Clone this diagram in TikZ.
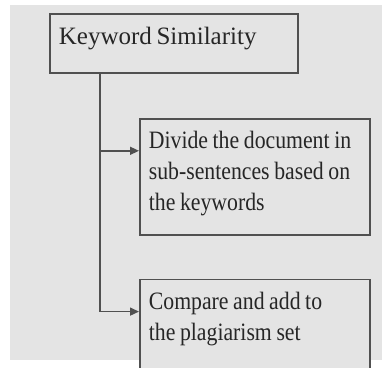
\documentclass[tikz,border=0pt]{standalone}
\usepackage{fontspec}
\setmainfont{Liberation Serif}
\newfontfamily\narrowserif{Liberation Serif}[FakeStretch=0.87]
\usetikzlibrary{arrows.meta, positioning}

\definecolor{panelgray}{HTML}{E4E4E4}
\definecolor{linegray}{HTML}{505050}
\definecolor{inkgray}{HTML}{262626}

\begin{document}
\begin{tikzpicture}[
    x=1pt, y=1pt,
    box/.style={
        rectangle,
        draw=linegray,
        fill=panelgray,
        line width=1.8pt,
        text width=212pt,
        text height=17pt,
        inner xsep=9pt,
        inner ysep=13pt,
        text=inkgray,
        execute at begin node={\parindent=0pt\spaceskip=4.6pt\relax},
        font=\narrowserif\fontsize{25}{31}\selectfont
    },
    arrow/.style={-{Triangle[length=9pt, width=8pt]}, draw=linegray, line width=1.5pt}
]

\useasboundingbox (0,0) rectangle (382,-367);
\fill[panelgray] (10,-5) rectangle (382,-360);

\node[box, anchor=north west, text width=230pt, inner xsep=9pt, inner ysep=14pt,
      text depth=14pt, font=\fontsize{25}{31}\selectfont] (keyword) at (49,-13)
    {Keyword Similarity};

\node[box, text depth=73pt, below right=44pt and 90pt of keyword.south west] (divide)
    {Divide the document in\\sub-sentences based on\\the keywords};
\node[box, text depth=46pt, below=43pt of divide] (compare)
    {Compare and add to\\the plagiarism set};

\draw[arrow] ([xshift=51pt]keyword.south west) |- ([yshift=-33pt]divide.north west);
\draw[arrow] ([xshift=51pt]keyword.south west) |- ([yshift=-33pt]compare.north west);

\end{tikzpicture}
\end{document}
